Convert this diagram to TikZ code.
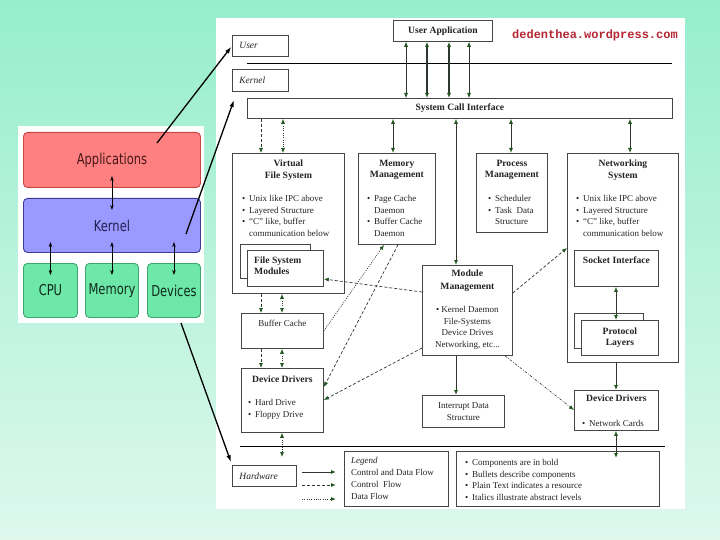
\documentclass[tikz,border=0pt]{standalone}
\usepackage{fontspec}
\setmainfont{Liberation Serif}
\newfontfamily\dejavu{DejaVu Sans}
\newfontfamily\wpfont{Liberation Mono}
\usetikzlibrary{arrows.meta,positioning}

\definecolor{bgtop}{RGB}{150,238,204}
\definecolor{bgbot}{RGB}{222,248,238}
\definecolor{headgreen}{RGB}{30,85,30}
\definecolor{flowline}{RGB}{45,55,45}
\definecolor{boxline}{RGB}{70,70,70}
\definecolor{inktext}{RGB}{35,35,35}
\definecolor{wpred}{RGB}{180,38,50}
\definecolor{appfill}{RGB}{255,128,128}
\definecolor{appline}{RGB}{200,70,70}
\definecolor{kerfill}{RGB}{153,153,255}
\definecolor{kerline}{RGB}{60,60,150}
\definecolor{hwfill}{RGB}{110,232,168}
\definecolor{hwline}{RGB}{60,165,110}

\newcommand{\bul}{\makebox[7pt][l]{\textbullet}}
\newcommand{\cnt}{\hspace*{7pt}}
\newcommand{\tallsans}[1]{\scalebox{1}[1.3]{\dejavu #1}}

\tikzset{
  >={Latex[length=5pt,width=4pt,color=headgreen]},
  box/.style={draw=boxline, line width=0.8pt, fill=white, inner sep=0pt, anchor=north west, text=inktext},
  ttlbox/.style={box, align=center, font=\fontsize{9.6}{11.5}\selectfont\bfseries},
  lvl/.style={box, inner xsep=7pt, minimum height=21pt, align=left, font=\fontsize{9.5}{11}\selectfont\itshape},
  ttl/.style={inner sep=0pt, align=center, text=inktext, font=\fontsize{9.6}{11.3}\selectfont\bfseries},
  lst/.style={inner sep=0pt, align=left, text=inktext, font=\fontsize{9}{11.7}\selectfont},
  flow/.style={flowline, line width=0.9pt},
  ctrlflow/.style={flowline, line width=0.7pt, dash pattern=on 3pt off 2pt},
  dataflow/.style={flowline, line width=0.7pt, dash pattern=on 1pt off 1.3pt},
  dashdotflow/.style={flowline, line width=0.6pt, dash pattern=on 2.5pt off 1.5pt on 0.8pt off 1.5pt},
  layer/.style={rounded corners=4pt, line width=0.9pt, anchor=north west, inner sep=0pt, font=\fontsize{11.5}{13}\selectfont},
  lflow/.style={line width=0.7pt, {Stealth[length=5pt,width=3.5pt]}-{Stealth[length=5pt,width=3.5pt]}},
  ptr/.style={line width=1.3pt, -{Latex[length=7pt,width=4.5pt,color=black]}},
}

\begin{document}
\begin{tikzpicture}[x=1pt,y=-1pt]
  \useasboundingbox (0,0) rectangle (720,540);
  \shade[top color=bgtop, bottom color=bgbot] (0,0) rectangle (720,540);
  \fill[white] (216,18) rectangle (685,509);
  \fill[white] (18,126) rectangle (204,323);

  % simple layer view
  \node[layer, fill=appfill, draw=appline, text=appline!35!black, minimum width=177pt, minimum height=55pt] (apps) at (23,132) {\tallsans{Applications}};
  \node[layer, fill=kerfill, draw=kerline, text=kerline!55!black, minimum width=177pt, minimum height=54pt] (kernel) at (23,198) {\tallsans{Kernel}};
  \node[layer, fill=hwfill, draw=hwline, text=hwline!25!black, minimum width=54pt, minimum height=54pt] (cpu) at (23,263) {\tallsans{CPU}};
  \node[layer, fill=hwfill, draw=hwline, text=hwline!25!black, minimum width=53pt, minimum height=54pt] (memory) at (85,263) {\tallsans{Memory}};
  \node[layer, fill=hwfill, draw=hwline, text=hwline!25!black, minimum width=53pt, minimum height=54pt] (devices) at (147,263) {\tallsans{Devices}};
  \draw[lflow] (apps.center |- 0,176) -- (kernel.center |- 0,210);
  \foreach \dev in {cpu,memory,devices}
    \draw[lflow] (\dev.center |- 0,242) -- (\dev.center |- 0,275);

  % abstract levels
  \node[lvl, text width=42pt] (user) at (232,35) {User};
  \node[lvl, text width=42pt, minimum height=22pt] (kern) at (232,69) {Kernel};
  \node[lvl, text width=50pt] (hw) at (232,465) {Hardware};
  \draw[line width=0.9pt] (247,63) -- (672,63);
  \draw[line width=0.9pt] (240,446) -- (665,446);

  \node[ttlbox, minimum width=99pt, minimum height=21pt] (app) at (393,20) {User Application};
  \node[inner sep=0pt, text=wpred, font=\wpfont\bfseries\fontsize{12}{14}\selectfont] (site) at (595,35) {dedenthea.wordpress.com};
  \node[ttlbox, minimum width=425pt, minimum height=20pt] (sci) at (247,98) {System Call Interface};

  % subsystems
  \node[box, minimum width=112pt, minimum height=140pt] (vfs) at (232,153) {};
  \node[ttl, below=7pt of vfs.north] {Virtual\\File System};
  \node[lst, below right=42pt and 10pt of vfs.north west] {\bul Unix like IPC above\\ \bul Layered Structure\\ \bul “C” like, buffer\\ \cnt communication below};
  \node[box, minimum width=70pt, minimum height=34pt] (fsmback) at (240,244) {};
  \node[box, minimum width=76pt, minimum height=36pt] (fsm) at (247,250) {};
  \node[ttl, align=left, font=\fontsize{9.6}{10.5}\selectfont\bfseries, below right=7pt and 7pt of fsm.north west] {File System\\Modules};

  \node[box, minimum width=77pt, minimum height=91pt] (mem) at (358,153) {};
  \node[ttl, below=7pt of mem.north] {Memory\\Management};
  \node[lst, below right=42pt and 9pt of mem.north west] {\bul Page Cache\\ \cnt Daemon\\ \bul Buffer Cache\\ \cnt Daemon};

  \node[box, minimum width=71pt, minimum height=79pt] (proc) at (476,153) {};
  \node[ttl, below=7pt of proc.north] {Process\\Management};
  \node[lst, below right=42pt and 12pt of proc.north west] {\bul Scheduler\\ \bul Task\ \ Data\\ \cnt Structure};

  \node[box, minimum width=111pt, minimum height=209pt] (net) at (567,153) {};
  \node[ttl, below=7pt of net.north] {Networking\\System};
  \node[lst, below right=42pt and 9pt of net.north west] {\bul Unix like IPC above\\ \bul Layered Structure\\ \bul “C” like, buffer\\ \cnt communication below};
  \node[box, minimum width=84pt, minimum height=36pt] (sock) at (574,250) {};
  \node[ttl, below=7pt of sock.north] {Socket Interface};
  \node[box, minimum width=69pt, minimum height=35pt] (protback) at (574,313) {};
  \node[ttlbox, font=\fontsize{9.6}{11}\selectfont\bfseries, minimum width=77pt, minimum height=35pt] (prot) at (581,320) {Protocol\\Layers};

  \node[box, minimum width=90pt, minimum height=90pt] (modm) at (422,265) {};
  \node[ttl, font=\fontsize{9.6}{13}\selectfont\bfseries, below=5pt of modm.north] {Module\\Management};
  \node[lst, align=center, below=41pt of modm.north] {\textbullet\ Kernel Daemon\\ File-Systems\\ Device Drives\\ Networking, etc...};
  \node[box, lst, align=center, minimum width=82pt, minimum height=32pt] (intr) at (422,395) {Interrupt Data\\Structure};

  \node[box, minimum width=82pt, minimum height=35pt] (buf) at (241,313) {};
  \node[lst, below=7pt of buf.north] {Buffer Cache};
  \node[box, minimum width=82pt, minimum height=64pt] (ddl) at (241,368) {};
  \node[ttl, below=8pt of ddl.north] {Device Drivers};
  \node[lst, below right=31pt and 7pt of ddl.north west] {\bul Hard Drive\\ \bul Floppy Drive};
  \node[box, minimum width=84pt, minimum height=40pt] (ddn) at (574,390) {};
  \node[ttl, below=5pt of ddn.north] {Device Drivers};
  \node[lst, below right=30pt and 8pt of ddn.north west] {\bul Network Cards};

  % legend
  \node[box, minimum width=104pt, minimum height=55pt] (legend) at (344,451) {};
  \node[lst, below right=6pt and 7pt of legend.north west] {\textit{Legend}\\[0.5pt] Control and Data Flow\\ Control\ \ Flow\\ Data Flow};
  \node[box, minimum width=203pt, minimum height=55pt] (notes) at (456,451) {};
  \node[lst, below right=8pt and 9pt of notes.north west] {\bul Components are in bold\\ \bul Bullets describe components\\ \bul Plain Text indicates a resource\\ \bul Italics illustrate abstract levels};
  \foreach \yy/\sty in {472/flow,485/ctrlflow,499/dataflow}
    \draw[\sty, ->, line width=1pt] (302,\yy) -- (336,\yy);

  % user space to system calls
  \foreach \xx/\lw in {406/0.6pt,427/1.2pt,449/1.2pt,469/0.6pt}
    \draw[<->, flowline, line width=\lw] (app.south -| \xx,0) -- (sci.north -| \xx,0);

  % system calls to subsystems
  \draw[ctrlflow, ->] (sci.south -| 261,0) -- (vfs.north -| 261,0);
  \draw[dataflow, <->] (sci.south -| 283,0) -- (vfs.north -| 283,0);
  \foreach \xx/\dst in {393/mem,456/modm,511/proc,630/net}
    \draw[flow, <->] (sci.south -| \xx,0) -- (\dst.north -| \xx,0);

  % file system stack
  \draw[ctrlflow, ->] (vfs.south -| 261,0) -- (buf.north -| 261,0);
  \draw[dataflow, <->] (vfs.south -| 282,0) -- (buf.north -| 282,0);
  \draw[ctrlflow, ->] (buf.south -| 261,0) -- (ddl.north -| 261,0);
  \draw[dataflow, <->] (buf.south -| 282,0) -- (ddl.north -| 282,0);
  \coordinate (hw-a) at (282,457);
  \coordinate (hw-b) at (616,458);
  \draw[dataflow, <->] (ddl.south -| 282,0) -- (hw-a);

  % network stack
  \draw[flow, <->] (sock.south -| 616,0) -- (prot.north -| 616,0);
  \draw[flow, ->] (net.south -| 616,0) -- (ddn.north -| 616,0);
  \draw[flow, <->] (ddn.south -| 616,0) -- (hw-b);

  % module management
  \draw[flow, ->] (modm.south -| 456,0) -- (intr.north -| 456,0);
  \draw[ctrlflow, ->] (modm.west |- 0,292) -- (fsm.east |- 0,279);
  \draw[ctrlflow, ->] (modm.west |- 0,348) -- (ddl.east |- 0,400);
  \draw[ctrlflow, ->] (modm.east |- 0,293) -- (net.west |- 0,248);
  \draw[dashdotflow, ->] (modm.south -| 505,0) -- (ddn.west |- 0,410);

  % memory paths
  \draw[dataflow, ->] (buf.east |- 0,331) -- (mem.south -| 384,0);
  \draw[ctrlflow, ->] (mem.south -| 398,0) -- (ddl.east |- 0,387);

  % pointers from the layer view
  \coordinate (ptr-a) at (157,143);
  \coordinate (ptr-k) at (186,234);
  \coordinate (ptr-d) at (181,323);
  \coordinate (kern-tip) at (234,100);
  \draw[ptr, shorten >=1pt] (ptr-a) -- (user.west);
  \draw[ptr] (ptr-k) -- (kern-tip);
  \draw[ptr, shorten >=3pt] (ptr-d) -- (hw.north west);
\end{tikzpicture}
\end{document}
